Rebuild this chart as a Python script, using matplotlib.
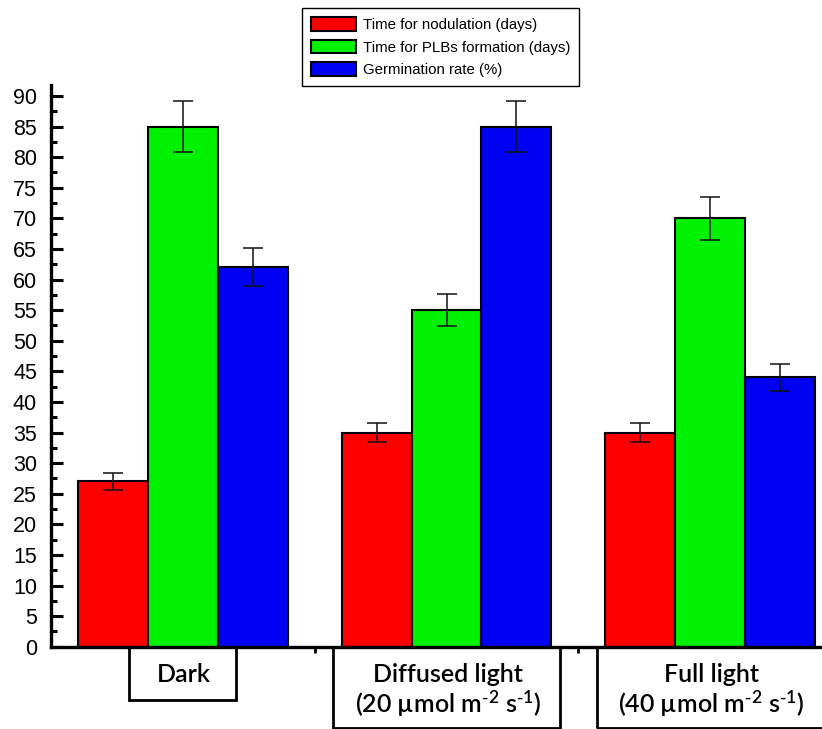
import matplotlib
matplotlib.use("Agg")
import matplotlib.pyplot as plt
import numpy as np
from matplotlib.patches import Rectangle
from matplotlib.ticker import MultipleLocator

plt.rcParams['font.family'] = ['Liberation Sans', 'DejaVu Sans']
plt.rcParams['mathtext.default'] = 'regular'

# light conditions
groups = ["Dark", "Diffused light", "Full light"]
sublabels = ["", r"(20 µmol m$^{\text{-}2}$ s$^{\text{-}1}$)", r"(40 µmol m$^{\text{-}2}$ s$^{\text{-}1}$)"]

series = ["Time for nodulation (days)", "Time for PLBs formation (days)", "Germination rate (%)"]
nodulation = [27, 35, 35]
nodulation_err = [1.4, 1.6, 1.6]
plbs = [85, 55, 70]
plbs_err = [4.2, 2.6, 3.5]
germination = [62, 85, 44]
germination_err = [3.1, 4.2, 2.2]

colors = ['#ff0000', '#00f200', '#0000f2']

fig = plt.figure(figsize=(8.22, 7.29), dpi=100)
ax = fig.add_axes([0.062, 0.1129, 0.938, 0.7705])

x = np.arange(len(groups))
w = 0.265
err_style = dict(ecolor='#111111', elinewidth=1.1, capsize=7, capthick=1.1)

vals = [nodulation, plbs, germination]
errs = [nodulation_err, plbs_err, germination_err]
for i in range(3):
    ax.bar(x + (i - 1) * w, vals[i], w, yerr=errs[i], color=colors[i],
           edgecolor='black', linewidth=1.5, label=series[i], error_kw=err_style,
           zorder=2)

ax.set_xlim(-0.5, 2.424)
ax.set_ylim(0, 91.8)

ax.yaxis.set_major_locator(MultipleLocator(5))
ax.yaxis.set_minor_locator(MultipleLocator(2.5))
ax.tick_params(axis='y', which='major', direction='in', length=8.5, width=2.2,
               labelsize=15.5, pad=10)
ax.tick_params(axis='y', which='minor', direction='in', length=4.3, width=2.2)

ax.set_xticks([0.5, 1.5])
ax.set_xticklabels([])
ax.tick_params(axis='x', which='major', direction='out', length=4, width=2)

for s in ['top', 'right']:
    ax.spines[s].set_visible(False)
for s in ['left', 'bottom']:
    ax.spines[s].set_linewidth(2.4)

# boxed category labels under the axis
trans = ax.get_xaxis_transform()
box_w = [0.405, 0.86, 0.86]
box_bottom = [-0.095, -0.145, -0.145]
for i, g in enumerate(groups):
    rect = Rectangle((x[i] - box_w[i] / 2, box_bottom[i]), box_w[i], -box_bottom[i],
                     transform=trans, fill=False, edgecolor='black', linewidth=2,
                     clip_on=False)
    ax.add_patch(rect)
    ax.text(x[i] + 0.005, -0.063, g, transform=trans, ha='center', va='baseline',
            fontsize=18, fontweight='semibold', family='Lato')
    if sublabels[i]:
        ax.text(x[i] + 0.005, -0.118, sublabels[i], transform=trans, ha='center',
                va='baseline', fontsize=18, fontweight='semibold', family='Lato')

fig.legend(loc='upper left', bbox_to_anchor=(302 / 822, 1 - 8 / 729),
           bbox_transform=fig.transFigure, borderaxespad=0, fontsize=10.8,
           fancybox=False, edgecolor='black', framealpha=1, handlelength=3.0,
           handleheight=1.05, labelspacing=0.5, handletextpad=0.45, borderpad=0.6)
fig.legends[0].get_frame().set_linewidth(1.0)

fig.savefig("out.png", dpi=100)
